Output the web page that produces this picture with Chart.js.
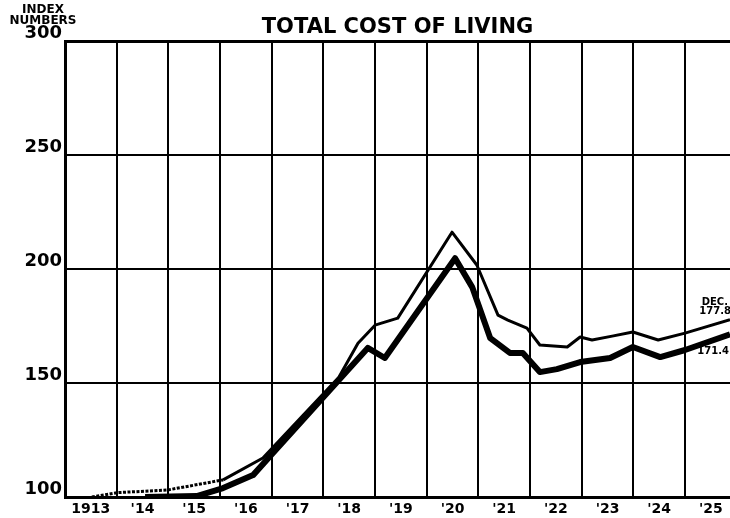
<!DOCTYPE html>
<html><head><meta charset="utf-8">
<script src="https://cdn.jsdelivr.net/npm/chart.js@4.4.1/dist/chart.umd.min.js"></script>
<style>html,body{margin:0;padding:0;background:#fff;} canvas{display:block;}</style>
</head><body>
<canvas id="c" width="730" height="518"></canvas>
<script>
// ---- data ----
const xTickLabels = ['1913', "'14", "'15", "'16", "'17", "'18", "'19", "'20", "'21", "'22", "'23", "'24", "'25"];
const firstYear = 1913;
const lastYear = 1925.87;
const yMin = 100, yMax = 300, yStep = 50;

// thin line (upper at the end, DEC. 177.8)
const thinYears  = [1913.52, 1914.01, 1914.99, 1916.06, 1916.83, 1918.30, 1918.67, 1919.00, 1919.44, 1920.49, 1920.97, 1921.38, 1921.57, 1921.94, 1922.19, 1922.72, 1922.97, 1923.20, 1923.59, 1923.99, 1924.48, 1925.00, 1925.87];
const thinValues = [100.0,   101.9,   103.1,   107.5,   117.1,   152.5,   167.5,   175.4,   178.5,   216.2,   201.8,   179.8,   177.6,   174.1,   166.7,   165.8,   170.2,   168.9,   170.6,   172.4,   168.9,   171.9,   177.8];

// heavy line (lower at the end, 171.4)
const thickYears  = [1914.55, 1915.55, 1916.06, 1916.64, 1916.99, 1918.86, 1919.19, 1920.55, 1920.88, 1921.23, 1921.61, 1921.86, 1922.19, 1922.52, 1922.97, 1923.55, 1923.99, 1924.52, 1925.00, 1925.87];
const thickValues = [100.0,   100.4,   103.9,   109.6,   118.4,   165.4,   161.0,   204.8,   192.1,   169.7,   163.2,   163.2,   154.8,   156.1,   159.2,   161.0,   165.8,   161.4,   164.5,   171.4];

const titleText = 'TOTAL COST OF LIVING';
const yAxisTitle = ['INDEX', 'NUMBERS'];
const endNoteMonth = 'DEC.';

const FONT = '"DejaVu Sans", "Liberation Sans", sans-serif';
const toPoints = (xs, ys) => xs.map((x, i) => ({ x: x, y: ys[i] }));

const notesPlugin = {
  id: 'notes',
  afterDraw(chart) {
    const ctx = chart.ctx;
    const ys = chart.scales.y;
    ctx.save();
    ctx.fillStyle = '#000';
    ctx.textBaseline = 'middle';
    ctx.textAlign = 'center';
    ctx.font = 'bold 12px ' + FONT;
    ctx.fillText(yAxisTitle[0], 43, 10);
    ctx.fillText(yAxisTitle[1], 43, 21);
    ctx.font = 'bold 10px ' + FONT;
    ctx.textAlign = 'right';
    const thinEnd = thinValues[thinValues.length - 1];
    const thickEnd = thickValues[thickValues.length - 1];
    const yThin = ys.getPixelForValue(thinEnd);
    const yThick = ys.getPixelForValue(thickEnd);
    const xr = chart.chartArea.right;
    ctx.fillText(endNoteMonth, xr - 2, yThin - 17);
    ctx.fillText(thinEnd.toFixed(1), xr + 1, yThin - 8);
    ctx.fillText(thickEnd.toFixed(1), xr - 1, yThick + 17);
    ctx.restore();
  }
};

new Chart(document.getElementById('c'), {
  type: 'line',
  data: {
    datasets: [
      {
        data: toPoints(thinYears, thinValues),
        borderColor: '#000',
        borderWidth: 3,
        pointRadius: 0,
        tension: 0,
        borderJoinStyle: 'round',
        segment: {
          borderDash: c => (c.p1.parsed.x <= 1916.1 ? [3, 1.5] : undefined)
        }
      },
      {
        data: toPoints(thickYears, thickValues),
        borderColor: '#000',
        borderWidth: 6,
        pointRadius: 0,
        tension: 0,
        borderJoinStyle: 'round'
      }
    ]
  },
  options: {
    responsive: false,
    animation: false,
    layout: { padding: { left: 0, right: 0, top: 0, bottom: 0 } },
    plugins: {
      legend: { display: false },
      tooltip: { enabled: false },
      title: {
        display: true,
        text: titleText,
        fullSize: false,
        color: '#000',
        font: { family: FONT, size: 21, weight: 'bold', lineHeight: 1.2 },
        padding: { top: 15, bottom: 1 }
      }
    },
    scales: {
      x: {
        type: 'linear',
        min: firstYear,
        max: lastYear,
        afterBuildTicks(scale) {
          const t = [];
          for (let i = 0; i < xTickLabels.length; i++) {
            t.push({ value: firstYear + i });
            t.push({ value: firstYear + i + 0.5 });
          }
          scale.ticks = t;
        },
        afterFit(scale) { scale.height = 21; },
        ticks: {
          autoSkip: false,
          maxRotation: 0,
          minRotation: 0,
          padding: 4,
          color: '#000',
          font: { family: FONT, size: 14, weight: 'bold' },
          callback: (value) => (value % 1 !== 0 ? xTickLabels[Math.floor(value) - firstYear] : '')
        },
        grid: {
          drawTicks: false,
          color: c => (c.tick && c.tick.value % 1 === 0 ? '#000' : 'rgba(0,0,0,0)'),
          lineWidth: 2
        },
        border: { display: true, color: '#000', width: 3 }
      },
      y: {
        min: yMin,
        max: yMax,
        afterFit(scale) { scale.width = 65; },
        ticks: {
          stepSize: yStep,
          padding: 3,
          labelOffset: -8,
          color: '#000',
          font: { family: FONT, size: 18, weight: 'bold' }
        },
        grid: {
          drawTicks: false,
          color: '#000',
          lineWidth: c => (c.tick && c.tick.value === yMax ? 3 : 2)
        },
        border: { display: true, color: '#000', width: 3 }
      }
    }
  },
  plugins: [notesPlugin]
});
</script>
</body></html>
